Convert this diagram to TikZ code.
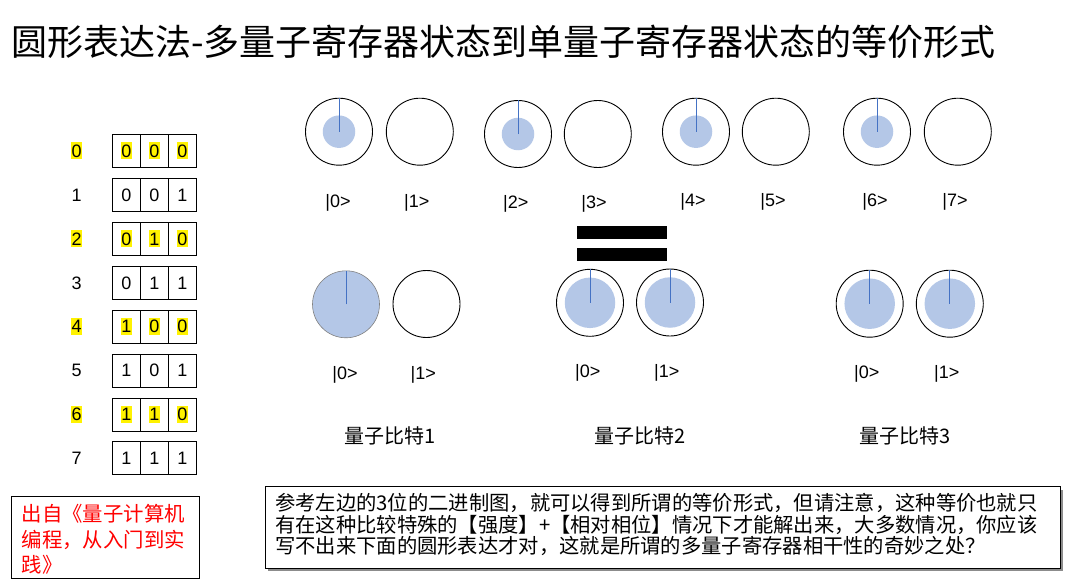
\documentclass[tikz,border=0pt]{standalone}
\usepackage{fontspec}
\setmainfont{Liberation Sans}
\newfontfamily\cjk{Noto Sans CJK SC}
\definecolor{qfill}{HTML}{B4C7E7}
\definecolor{qline}{HTML}{4472C4}
\definecolor{redtxt}{HTML}{FF0000}
\definecolor{shadowgray}{HTML}{8C8C8C}
\begin{document}
\begin{tikzpicture}[x=1pt,y=-1pt,
  num/.style={inner xsep=0.6pt,inner ysep=1.8pt,text height=12.9pt,text depth=0pt,font=\fontsize{18}{18}\selectfont},
  hl/.style={fill=yellow},
  nh/.style={},
  cell/.style={draw=black,line width=0.9pt,minimum width=28pt,minimum height=33pt,inner sep=0pt},
  ring/.style={circle,draw=black,line width=0.9pt,minimum size=67pt,inner sep=0pt},
  blob/.style={circle,fill=qfill,inner sep=0pt},
  bigblob/.style={blob,minimum size=50.5pt},
  phase/.style={draw=qline,line width=1pt},
  ket/.style={font=\fontsize{18}{18}\selectfont,inner sep=0pt},
  qlabel/.style={font=\cjk\fontsize{20}{20}\selectfont,inner sep=0pt},
  bar/.style={fill=black,draw=none}
]
\useasboundingbox[fill=white] (0,0) rectangle (1080,586);

% title
\node[anchor=west,inner sep=0pt,font=\cjk\fontsize{36}{40}\selectfont] (title) at (11,42)
  {圆形表达法-多量子寄存器状态到单量子寄存器状态的等价形式};

% binary table
\foreach \i/\a/\b/\c/\s in {0/0/0/0/hl,1/0/0/1/nh,2/0/1/0/hl,3/0/1/1/nh,4/1/0/0/hl,5/1/0/1/nh,6/1/1/0/hl,7/1/1/1/nh}{
  \pgfmathsetmacro{\yy}{150.7+43.96*\i}
  \node[num,\s] (n\i) at (76.7,\yy) {\i};
  \node[cell] (ca\i) at (126.3,\yy) {};
  \node[cell] (cb\i) at (154.3,\yy) {};
  \node[cell] (cc\i) at (182.3,\yy) {};
  \node[num,\s] (da\i) at (ca\i.center) {\a};
  \node[num,\s] (db\i) at (cb\i.center) {\b};
  \node[num,\s] (dc\i) at (cc\i.center) {\c};
}

% top row: 3-qubit register states
\node[ring] (r0) at (339,131.7) {};
\node[ring] (r1) at (419.8,131.7) {};
\node[ring] (r2) at (518,134) {};
\node[ring] (r3) at (597.8,134) {};
\node[ring] (r4) at (696,131.7) {};
\node[ring] (r5) at (775.8,131.7) {};
\node[ring] (r6) at (877,131.7) {};
\node[ring] (r7) at (957.8,131.7) {};
\foreach \k in {0,2,4,6}{
  \node[blob,minimum size=32.5pt] (f\k) at (r\k.center) {};
  \draw[phase] (f\k.center) -- (r\k.north);
}
\node[ket] (k0) at (338,203) {|0>};
\node[ket] (k1) at (416.7,203) {|1>};
\node[ket] (k2) at (515.7,203.5) {|2>};
\node[ket] (k3) at (594,204) {|3>};
\node[ket] (k4) at (693,202) {|4>};
\node[ket] (k5) at (773,202) {|5>};
\node[ket] (k6) at (875,202) {|6>};
\node[ket] (k7) at (955,202) {|7>};

% equals sign
\path[bar] (577.3,225.7) rectangle (667,239.3);
\path[bar] (577.3,247.7) rectangle (667,261.3);

% bottom row: single qubits
\node[circle,fill=qfill,draw=gray,line width=0.6pt,minimum size=67pt,inner sep=0pt] (qa0) at (346,304.3) {};
\draw[phase] (qa0.center) -- (qa0.north);
\node[ring] (qa1) at (426.5,304) {};

\node[ring] (qb0) at (590,302.8) {};
\node[ring] (qb1) at (670,302.5) {};
\node[ring] (qc0) at (869.7,303.7) {};
\node[ring] (qc1) at (949.8,303.7) {};
\node[bigblob] (fb0) at (qb0.center) {};
\node[bigblob] (fb1) at (qb1.center) {};
\node[bigblob] (fc0) at (qc0.center) {};
\node[bigblob] (fc1) at (qc1.center) {};
\draw[phase] (fb0.center) -- (qb0.north);
\draw[phase] (fb1.center) -- (qb1.north);
\draw[phase] (fc0.center) -- (qc0.north);
\draw[phase] (fc1.center) -- (qc1.north);

\node[ket] (la0) at (345,375) {|0>};
\node[ket] (la1) at (423.3,375) {|1>};
\node[ket] (lb0) at (587.7,373.3) {|0>};
\node[ket] (lb1) at (666.7,373.3) {|1>};
\node[ket] (lc0) at (866.7,374) {|0>};
\node[ket] (lc1) at (946.7,374) {|1>};

\node[qlabel] (t1) at (390,436) {量子比特1};
\node[qlabel] (t2) at (640,436) {量子比特2};
\node[qlabel] (t3) at (905,436) {量子比特3};

% source box
\node[draw=black,line width=0.9pt,minimum width=187.6pt,minimum height=82.7pt,inner sep=0pt] (src) at (105.5,537.3) {};
\node[anchor=west,align=left,inner sep=0pt,text=redtxt,font=\cjk\fontsize{20.4}{25.5}\selectfont] (srct) at (21.5,539.5)
  {出自《量子计算机\\编程，从入门到实\\践》};

% note box
\path[fill=shadowgray] (267.5,489.5) rectangle (1062.5,571);
\node[draw=black,fill=white,line width=0.9pt,minimum width=795pt,minimum height=81.6pt,inner sep=0pt] (notebox) at (662.5,527.5) {};
\node[anchor=west,align=left,inner sep=0pt,font=\cjk\fontsize{20.3}{21.2}\selectfont] (note) at (275,524.5)
  {参考左边的3位的二进制图，就可以得到所谓的等价形式，但请注意，这种等价也就只\\
   有在这种比较特殊的【强度】+【相对相位】情况下才能解出来，大多数情况，你应该\\
   写不出来下面的圆形表达才对，这就是所谓的多量子寄存器相干性的奇妙之处？};
\end{tikzpicture}
\end{document}
